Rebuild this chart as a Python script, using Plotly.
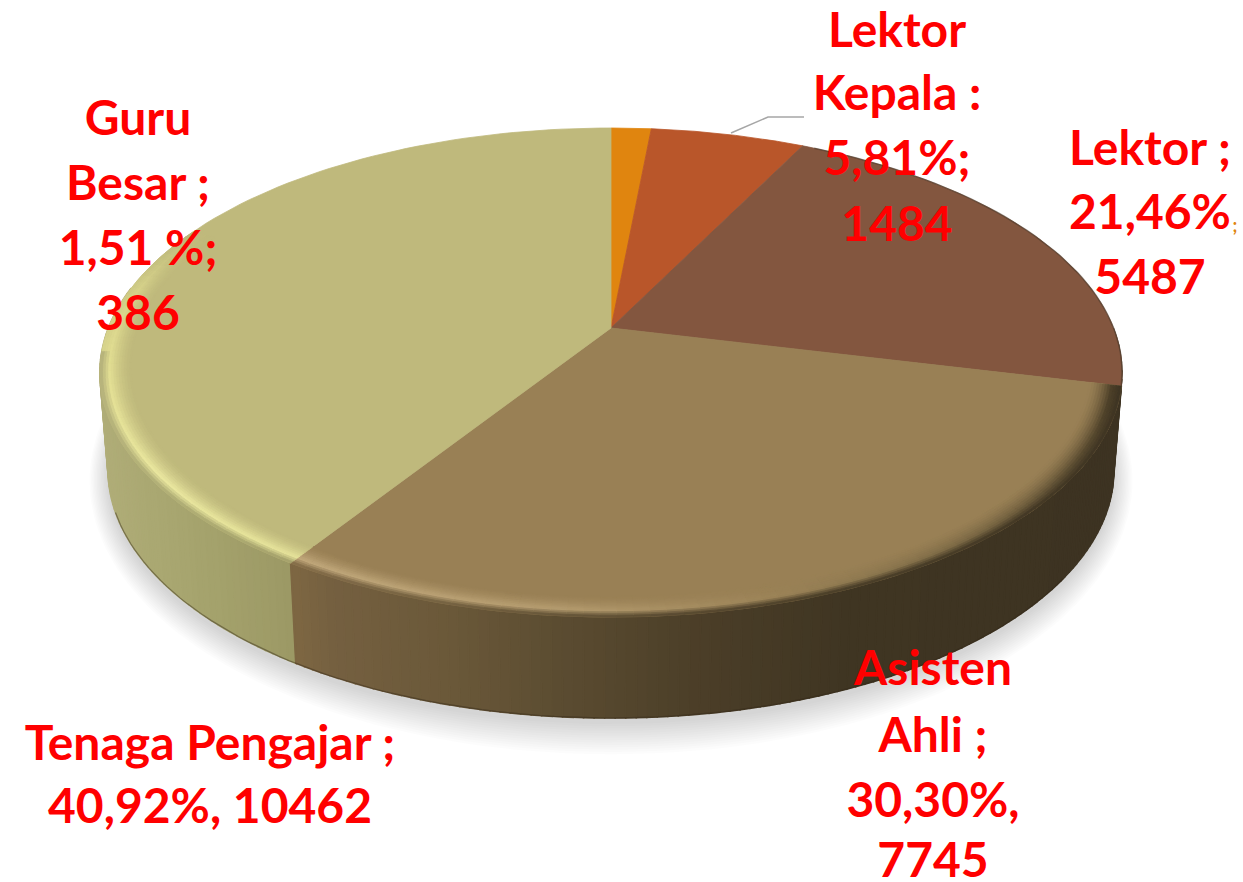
import numpy as np
import plotly.graph_objects as go

# ---- data
categories = ["Guru Besar", "Lektor Kepala", "Lektor", "Asisten Ahli", "Tenaga Pengajar"]
counts = [386, 1484, 5487, 7745, 10462]
top_colors = ["#e0850f", "#b9562a", "#83563f", "#998055", "#bfb97c"]
label_lines = [
    ["Guru", "Besar ;", "1,51 %;", "386"],
    ["Lektor", "Kepala :", "5,81%;", "1484"],
    ["Lektor ;", "21,46%", "5487"],
    ["Asisten", "Ahli ;", "30,30%,", "7745"],
    ["Tenaga Pengajar ;", "40,92%, 10462"],
]

# ---- layout / projection settings
W, H = 1243, 882
CX, CY, A, B, K = 611, 328, 502.6, 236.4, 0.182          # top face
BCY, BA, BB = 425, 494.5, 239.7                          # bottom face
label_anchor = [(138, [123, 188, 253, 318]), (897, [35, 98, 163, 229]),
                (1150, [153, 217, 282]), (933, [673, 740, 805, 865]),
                (210, [748, 811])]
FONT = "Lato, Open Sans, sans-serif"
FONT_SIZE = 48


def hex2rgb(c):
    return np.array([int(c[i:i + 2], 16) for i in (1, 3, 5)], float)


def lerp_color(pos, stops_pos, stops_col):
    arr = np.array([hex2rgb(c) for c in stops_col])
    return np.array([np.interp(pos, stops_pos, arr[:, i]) for i in range(3)])


def css(rgb):
    return "rgb(%d,%d,%d)" % tuple(int(round(v)) for v in rgb)


def top(theta, r=1.0):
    t = np.radians(theta)
    d = 1 + K * r * np.cos(t)
    return CX + A * r * np.sin(t) / d, CY - B * r * np.cos(t) / d


def base(theta, grow_x=0.0, grow_y=0.0, dy=0.0):
    t = np.radians(theta)
    d = 1 + K * np.cos(t)
    return CX + (BA + grow_x) * np.sin(t) / d, BCY + dy - (BB + grow_y) * np.cos(t) / d


fig = go.Figure()


def poly(xs, ys, color, stroke=0.8):
    fig.add_trace(go.Scatter(
        x=list(xs), y=list(ys), mode="lines", fill="toself", fillcolor=color,
        line=dict(color=color, width=stroke),
        hoverinfo="skip", showlegend=False))


share = np.array(counts, float) / sum(counts)
edges = np.concatenate([[0], np.cumsum(share)]) * 360

# shadow under the pie
all_t = np.linspace(0, 360, 241)
for i in range(14):
    g = 26 - i * 2
    xs, ys = base(all_t, grow_x=g * 0.7, grow_y=g * 0.95, dy=6)
    poly(xs, ys, "rgba(120,120,125,0.024)", stroke=0)

# side wall: shading runs along the x direction
side_stops = {
    3: ([296, 330, 450, 560, 700, 850, 1120],
        ["#7d6642", "#756040", "#6a5839", "#5b4c31", "#4b3e28", "#3f3522", "#3d3322"]),
    4: ([100, 150, 220, 300],
        ["#b0ad78", "#aaa872", "#a3a16b", "#9b9764"]),
}
STEP = 1.0
# strip on the right, above the first boundary
ts = np.append(np.arange(90, edges[3], 2.0), edges[3])
for u, v in zip(ts[:-1], ts[1:]):
    x1, y1 = top(u)
    x2, y2 = top(v)
    x3, y3 = base(v)
    x4, y4 = base(u)
    poly([x1, x2, x3, x4, x1], [y1, y2, y3, y4, y1], "#3d3322")
for idx in (4, 3):
    a0 = max(edges[idx], 90)
    a1 = min(edges[idx + 1], 280)
    ts = np.append(np.arange(a0, a1, STEP), a1)
    order = list(zip(ts[:-1], ts[1:]))
    for u, v in (order if idx == 3 else order[::-1]):
        x1, y1 = top(u)
        x2, y2 = top(v)
        x3, y3 = base(v)
        x4, y4 = base(u)
        col = lerp_color((x1 + x2) / 2, *side_stops[idx])
        poly([x1, x2, x3, x4, x1], [y1, y2, y3, y4, y1], css(col), stroke=1.6)

# thin dark edge where the wall meets the ground
ts = np.linspace(125, 250, 90)
xs, ys = base(ts)
fig.add_trace(go.Scatter(x=xs, y=ys, mode="lines", hoverinfo="skip", showlegend=False,
                         line=dict(color="rgba(50,40,25,0.45)", width=1.2)))

# top-face slices
for i, c in enumerate(top_colors):
    ts = np.linspace(edges[i], edges[i + 1], 90)
    xs, ys = top(ts)
    poly([CX, *xs, CX], [CY, *ys, CY], c)

# bevel along the front rim
edge_theta = [100, 110, 125, 145, 165, 185, 212.7, 212.8, 235, 262, 280, 296]
edge_cols = ["#4a3d27", "#4f422a", "#5f5034", "#7f6c47", "#9d8559", "#b69d70", "#c2a97c",
             "#e6e39a", "#ebe8a0", "#e2de92", "#d6d28a", "#bfb97c"]
ring = np.linspace(0.94, 1.0, 13)
PEAK = 0.982
for idx in (3, 4):
    a0, a1 = edges[idx], min(edges[idx + 1], 296)
    ts = np.linspace(a0, a1, int((a1 - a0) / 1.6) + 2)
    tc = hex2rgb(top_colors[idx])
    for u, v in zip(ts[:-1], ts[1:]):
        m = (u + v) / 2
        hi = lerp_color(m, edge_theta, edge_cols)
        xm, _ = top(m)
        sc = lerp_color(xm, *side_stops[idx])
        for r0, r1 in zip(ring[:-1], ring[1:]):
            rm = (r0 + r1) / 2
            if rm < PEAK:
                f = (rm - ring[0]) / (PEAK - ring[0])
                c = tc + (hi - tc) * f ** 1.6
            else:
                f = (rm - PEAK) / (1 - PEAK)
                if m > 265:
                    f *= 0.2
                c = hi + (sc - hi) * f
            xa, ya = top(np.array([u, v]), r0)
            xb, yb = top(np.array([v, u]), r1)
            poly([xa[0], xa[1], xb[0], xb[1], xa[0]],
                 [ya[0], ya[1], yb[0], yb[1], ya[0]], css(c))

# soft dark edge at the back rim
ts = np.linspace(28, edges[3], 50)
xs, ys = top(ts)
fig.add_trace(go.Scatter(x=xs, y=ys, mode="lines", hoverinfo="skip", showlegend=False,
                         line=dict(color="rgba(70,55,40,0.55)", width=1.5)))

# leader line of the Lektor Kepala label
leader_x, leader_y = [731, 768, 804], [133, 117, 117]
fig.add_trace(go.Scatter(x=leader_x, y=leader_y, mode="lines", hoverinfo="skip", showlegend=False,
                         line=dict(color="#a6a6a6", width=1.5)))

# labels
for lines, (x, ys) in zip(label_lines, label_anchor):
    fig.add_trace(go.Scatter(
        x=[x] * len(lines), y=ys, text=lines, mode="text", textposition="middle center",
        textfont=dict(family=FONT, size=FONT_SIZE, color="#ff0000", weight="bold"),
        hoverinfo="skip", showlegend=False, cliponaxis=False))
fig.add_trace(go.Scatter(
    x=[1235], y=[227], text=[";"], mode="text", textposition="middle center",
    textfont=dict(family=FONT, size=18, color="#e0850f", weight="bold"),
    hoverinfo="skip", showlegend=False, cliponaxis=False))

fig.update_layout(
    width=W, height=H, margin=dict(l=0, r=0, t=0, b=0),
    paper_bgcolor="white", plot_bgcolor="white", showlegend=False,
    xaxis=dict(range=[0, W], visible=False, fixedrange=True),
    yaxis=dict(range=[H, 0], visible=False, fixedrange=True),
)
fig.write_html("out.html", config={"displayModeBar": False},
               post_script="document.body.style.margin='0';document.body.style.overflow='hidden';")
